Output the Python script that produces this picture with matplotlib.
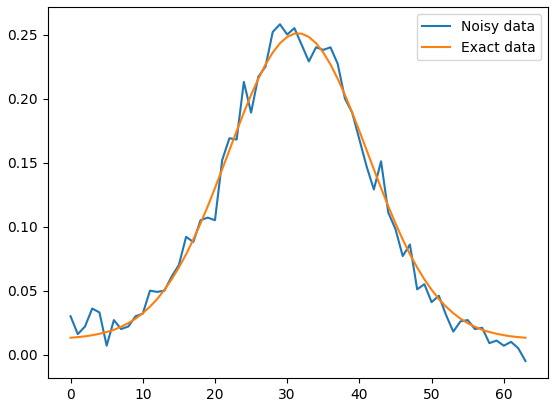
import matplotlib
matplotlib.use('Agg')
import matplotlib.pyplot as plt
import numpy as np

x = np.arange(64)

noisy = [0.030, 0.016, 0.022, 0.036, 0.033, 0.007, 0.027, 0.020, 0.022, 0.030,
         0.032, 0.050, 0.049, 0.050, 0.061, 0.070, 0.092, 0.088, 0.105, 0.107,
         0.105, 0.152, 0.169, 0.168, 0.213, 0.189, 0.217, 0.225, 0.252, 0.258,
         0.250, 0.255, 0.242, 0.229, 0.240, 0.238, 0.240, 0.227, 0.200, 0.189,
         0.168, 0.147, 0.129, 0.151, 0.111, 0.098, 0.077, 0.086, 0.051, 0.055,
         0.041, 0.046, 0.031, 0.018, 0.026, 0.027, 0.020, 0.021, 0.009, 0.011,
         0.007, 0.010, 0.005, -0.005]

exact = [0.0132, 0.0137, 0.0143, 0.0152, 0.0163, 0.0177, 0.0194, 0.0218, 0.0246, 0.0281,
         0.0324, 0.0375, 0.0434, 0.0507, 0.0588, 0.0681, 0.0784, 0.0899, 0.1025, 0.1159,
         0.1301, 0.1448, 0.1597, 0.1746, 0.1891, 0.2028, 0.2154, 0.2266, 0.2359, 0.2432,
         0.2481, 0.2507, 0.2507, 0.2481, 0.2432, 0.2359, 0.2266, 0.2154, 0.2028, 0.1891,
         0.1746, 0.1597, 0.1448, 0.1301, 0.1159, 0.1025, 0.0899, 0.0784, 0.0681, 0.0588,
         0.0507, 0.0434, 0.0375, 0.0324, 0.0281, 0.0246, 0.0218, 0.0194, 0.0177, 0.0163,
         0.0152, 0.0143, 0.0137, 0.0132]

fig, ax = plt.subplots(figsize=(5.56, 4.13), dpi=100)
ax.plot(x, noisy, label='Noisy data')
ax.plot(x, exact, label='Exact data')
ax.legend()
fig.subplots_adjust(left=0.086, right=0.986, top=0.982, bottom=0.085)
plt.savefig('out.png', dpi=100)
